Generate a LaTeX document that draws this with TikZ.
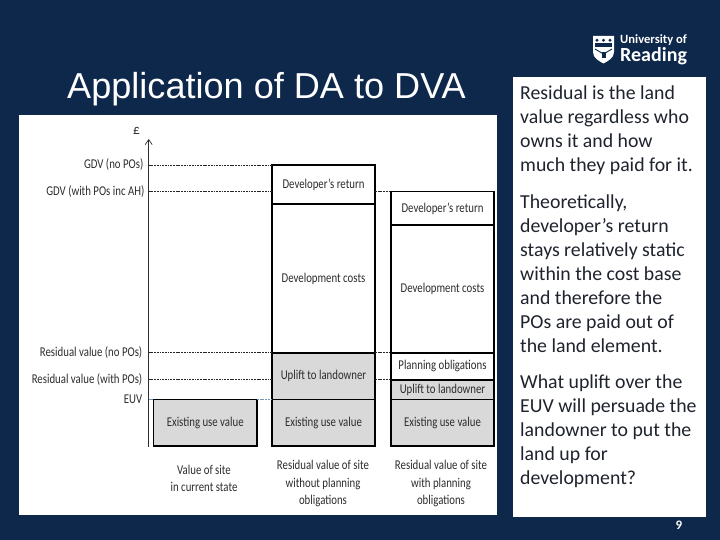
\documentclass[tikz,border=0pt]{standalone}
\usepackage{fontspec}
\setmainfont{Carlito}
\newfontfamily\titlefont{Liberation Sans}
\usetikzlibrary{arrows.meta}
\definecolor{navy}{RGB}{14,40,75}
\definecolor{barfill}{RGB}{217,217,217}
\definecolor{inkgray}{RGB}{45,45,45}
\definecolor{bodyink}{RGB}{30,35,45}
\definecolor{euvline}{RGB}{120,150,185}
\tikzset{
  x=1pt,y=-1pt,
  barbox/.style={draw=black,line width=1.8pt,inner sep=0pt,outer sep=0pt,anchor=north west,
    font=\fontsize{12}{12}\selectfont,text=inkgray,align=center},
  levelline/.style={draw=black!85,line width=0.6pt,dash pattern=on 1.8pt off 0.9pt},
  euvdash/.style={draw=euvline,line width=0.5pt,dash pattern=on 1.8pt off 0.9pt},
  levellabel/.style={anchor=east,inner sep=0pt,font=\fontsize{12}{12}\selectfont,text=inkgray},
  caption/.style={anchor=center,inner sep=0pt,align=center,font=\fontsize{12}{17.3}\selectfont,text=inkgray},
  bodytext/.style={anchor=north west,inner sep=0pt,align=left,
    font=\fontsize{19.8}{24}\selectfont,text=bodyink},
}
\newcommand{\sq}[1]{\scalebox{0.9}[1.12]{#1}}
\newcommand{\barnode}[7]{% name, x, y, w, h, fill, text
  \node[barbox,fill=#6,minimum width=#4pt,minimum height=#5pt] (#1) at (#2,#3) {\raisebox{-1.2pt}{\sq{#7}}};}
\begin{document}
\begin{tikzpicture}
\useasboundingbox (0,0) rectangle (720,540);
\fill[navy] (0,0) rectangle (720,540);
% panels
\fill[white] (19,115) rectangle (497,515);
\fill[white] (513,77) rectangle (706,517);
% title
\node[anchor=west,inner sep=0pt,text=white,font=\titlefont\fontsize{36.1}{38}\selectfont] (title) at (67,89) {Application of DA to DVA};
% axis
\coordinate (axb) at (148.7,446.5);
\coordinate (axt) at (148.7,139);
\draw[draw=inkgray,line width=0.7pt,-{Straight Barb[length=5pt,width=7pt]}] (axb) -- (axt);
\node[inner sep=0pt,font=\fontsize{13.5}{14}\selectfont,text=inkgray] (pound) at (136.5,131) {£};
% bars: column 1
\barnode{aeuv}{153.5}{399.5}{103.5}{46.2}{barfill}{Existing use value}
% column 2
\barnode{bdr}{272}{165}{103}{39.2}{white}{Developer’s return}
\barnode{bdc}{272}{204.2}{103}{148.5}{white}{Development costs}
\barnode{bup}{272}{352.7}{103}{46.8}{barfill}{Uplift to landowner}
\barnode{beuv}{272}{399.5}{103}{46.2}{barfill}{Existing use value}
% column 3
\barnode{cdr}{391}{191.5}{103}{33.7}{white}{Developer’s return}
\barnode{cdc}{391}{225.2}{103}{127.5}{white}{Development costs}
\barnode{cpo}{391}{352.7}{103}{27}{white}{Planning obligations}
\barnode{cup}{391}{379.7}{103}{19.8}{barfill}{Uplift to landowner}
\barnode{ceuv}{391}{399.5}{103}{46.2}{barfill}{Existing use value}
% level lines
\draw[levelline] (axb |- bdr.north west) -- (bdr.north west);
\draw[levelline] (axb |- cdr.north west) -- (bdr.west |- cdr.north west);
\draw[levelline] (bdr.east |- cdr.north west) -- (cdr.north west);
\draw[levelline] (axb |- bup.north west) -- (bup.north west);
\draw[levelline] (bup.north east) -- (cpo.north west);
\draw[levelline] (axb |- cup.north west) -- (bup.west |- cup.north west);
\draw[levelline] (bup.east |- cup.north west) -- (cup.north west);
\draw[euvdash] (axb |- aeuv.north west) -- (aeuv.north west);
\draw[euvdash] (aeuv.north east) -- (beuv.north west);
% level labels
\node[levellabel] (l1) at (143.5,165) {\sq{GDV (no POs)}};
\node[levellabel] (l2) at (144.5,192) {\sq{GDV (with POs inc AH)}};
\node[levellabel] (l3) at (142.5,352.5) {\sq{Residual value (no POs)}};
\node[levellabel] (l4) at (142.5,379.5) {\sq{Residual value (with POs)}};
\node[levellabel] (l5) at (142.5,399) {\sq{EUV}};
% captions
\node[caption] (ca) at (204,478.5) {\sq{Value of site}\\\sq{in current state}};
\node[caption] (cb) at (323,483.5) {\sq{Residual value of site}\\\sq{without planning}\\\sq{obligations}};
\node[caption] (cc) at (441,483.5) {\sq{Residual value of site}\\\sq{with planning}\\\sq{obligations}};
% body text
\node[bodytext] (t1) at (520,85.5) {Residual is the land\\value regardless who\\owns it and how\\much they paid for it.};
\node[bodytext] (t2) at (520,194.5) {Theoretically,\\developer’s return\\stays relatively static\\within the cost base\\and therefore the\\POs are paid out of\\the land element.};
\node[bodytext] (t3) at (520,374.5) {What uplift over the\\EUV will persuade the\\landowner to put the\\land up for\\development?};
% page number
\node[inner sep=0pt,text=white,font=\bfseries\fontsize{13}{13}\selectfont] (pg) at (679,525) {9};
% logo
\fill[white] (593,36) -- (614,36) -- (614,52) .. controls (614,58) and (608,61) .. (603.5,63.5) .. controls (599,61) and (593,58) .. (593,52) -- cycle;
\fill[navy] (595,43.5) rectangle (612,47);
\foreach \px in {597,603.5,610} {\fill[navy] (\px,40.3) circle (1.6pt);}
\draw[navy,line width=0.9pt] (595,49) -- (603.5,54) -- (612,49);
\fill[navy] (601.5,52.5) rectangle (605.5,58);
\node[anchor=west,inner sep=0pt,text=white,font=\fontsize{12.6}{13}\selectfont\bfseries] (uni) at (620,40.5) {University of};
\node[anchor=west,inner sep=0pt,text=white,font=\fontsize{20}{21}\selectfont\bfseries] (rdg) at (620,56.5) {Reading};
\end{tikzpicture}
\end{document}
